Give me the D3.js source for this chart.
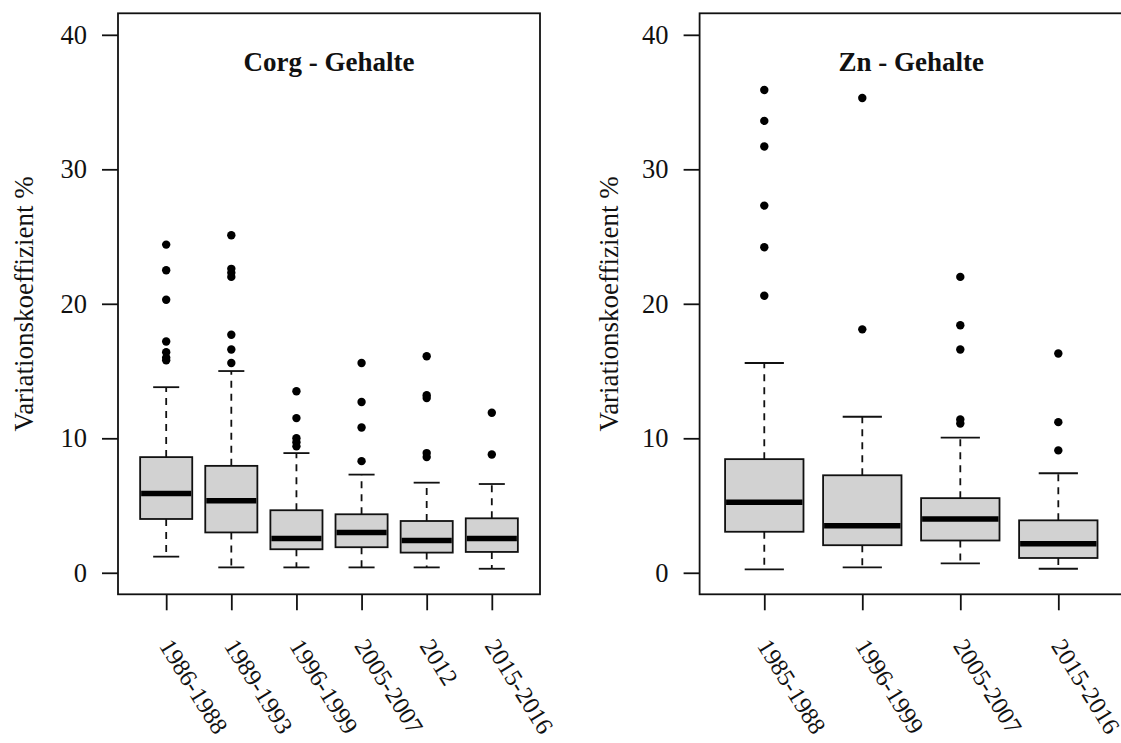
<!DOCTYPE html>
<html>
<head>
<meta charset="utf-8">
<script src="https://cdn.jsdelivr.net/npm/d3@7"></script>
<style>
  html, body { margin: 0; padding: 0; background: #ffffff; }
  svg { display: block; font-family: "Liberation Serif", "Times New Roman", serif; }
</style>
</head>
<body>
<script>
// Corg content: boxplot statistics per sampling period
const corgCategories = ["1986-1988", "1989-1993", "1996-1999", "2005-2007", "2012", "2015-2016"];
const corgLowerWhisker = [1.2, 0.4, 0.4, 0.4, 0.4, 0.3];
const corgQ1          = [4.0, 3.0, 1.75, 1.9, 1.5, 1.55];
const corgMedian      = [5.9, 5.35, 2.55, 3.0, 2.4, 2.55];
const corgQ3          = [8.6, 7.95, 4.65, 4.35, 3.85, 4.05];
const corgUpperWhisker= [13.8, 15.0, 8.9, 7.3, 6.7, 6.6];
const corgOutliers = [
  [24.4, 22.5, 20.3, 17.2, 16.4, 16.0, 15.8],
  [25.1, 22.6, 22.3, 22.0, 17.7, 16.6, 15.6],
  [13.5, 11.5, 10.0, 9.7, 9.4],
  [15.6, 12.7, 10.8, 8.3],
  [16.1, 13.2, 13.0, 8.9, 8.6],
  [11.9, 8.8]
];

// Zn content: boxplot statistics per sampling period
const znCategories = ["1985-1988", "1996-1999", "2005-2007", "2015-2016"];
const znLowerWhisker = [0.25, 0.4, 0.7, 0.3];
const znQ1           = [3.05, 2.05, 2.4, 1.1];
const znMedian       = [5.25, 3.5, 4.0, 2.15];
const znQ3           = [8.45, 7.25, 5.55, 3.9];
const znUpperWhisker = [15.6, 11.6, 10.05, 7.4];
const znOutliers = [
  [35.9, 33.6, 31.7, 27.3, 24.2, 20.6],
  [35.3, 18.1],
  [22.0, 18.4, 16.6, 11.4, 11.1],
  [16.3, 11.2, 9.1]
];

const yTicks = [0, 10, 20, 30, 40];
const yLabel = "Variationskoeffizient %";

const W = 1121, H = 743;
const svg = d3.select("body").append("svg").attr("width", W).attr("height", H);

const frameTop = 13.3, frameBottom = 594.3;
const FONT = 26.5;
const XFONT = 24.5;

function drawPanel(p) {
  const n = p.categories.length;
  const ext = 0.04 * n;
  const x = d3.scaleLinear().domain([0.5 - ext, n + 0.5 + ext]).range([p.left, p.right]);
  const yExt = 0.04 * 40;
  const y = d3.scaleLinear().domain([0 - yExt, 40 + yExt]).range([frameBottom, frameTop]);
  const unit = x(2) - x(1);
  const boxW = 0.8 * unit;
  const stapleW = 0.5 * boxW;

  const g = svg.append("g");

  // y axis
  const yAxis = g.append("g")
    .attr("transform", `translate(${p.left},0)`)
    .call(d3.axisLeft(y).tickValues(yTicks).tickSize(16).tickPadding(15).tickFormat(d3.format("d")));
  yAxis.select(".domain").remove();
  yAxis.selectAll(".tick line").attr("stroke", "#111").attr("stroke-width", 1.8);
  yAxis.selectAll(".tick text").attr("font-size", FONT).attr("fill", "#111")
    .attr("font-family", "'Liberation Serif', 'Times New Roman', serif");

  // x axis with slanted period labels
  const xIdx = d3.range(1, n + 1);
  const xAxis = g.append("g")
    .attr("transform", `translate(0,${frameBottom})`)
    .call(d3.axisBottom(x).tickValues(xIdx).tickSize(16).tickFormat(i => p.categories[i - 1]));
  xAxis.select(".domain").remove();
  xAxis.selectAll(".tick line").attr("stroke", "#111").attr("stroke-width", 1.8);
  xAxis.selectAll(".tick text")
    .attr("font-size", XFONT).attr("fill", "#111")
    .attr("font-family", "'Liberation Serif', 'Times New Roman', serif")
    .attr("text-anchor", "start")
    .attr("dominant-baseline", "central")
    .attr("dy", null)
    .attr("y", null)
    .attr("transform", "translate(-1,47) rotate(58)");

  // y axis title
  g.append("text")
    .attr("transform", `translate(${p.labelX},${(frameTop + frameBottom) / 2}) rotate(-90)`)
    .attr("text-anchor", "middle")
    .attr("font-size", 27)
    .attr("fill", "#111")
    .text(yLabel);

  // boxes
  const data = p.categories.map((c, i) => ({
    i: i + 1, lo: p.lo[i], q1: p.q1[i], med: p.med[i], q3: p.q3[i], hi: p.hi[i], out: p.out[i]
  }));
  const bx = g.selectAll("g.box").data(data).join("g").attr("class", "box");

  // whiskers (dashed)
  bx.append("line")
    .attr("x1", d => x(d.i)).attr("x2", d => x(d.i))
    .attr("y1", d => y(d.q3)).attr("y2", d => y(d.hi))
    .attr("stroke", "#111").attr("stroke-width", 1.8).attr("stroke-dasharray", "7,6");
  bx.append("line")
    .attr("x1", d => x(d.i)).attr("x2", d => x(d.i))
    .attr("y1", d => y(d.q1)).attr("y2", d => y(d.lo))
    .attr("stroke", "#111").attr("stroke-width", 1.8).attr("stroke-dasharray", "7,6");
  // staples
  bx.append("line")
    .attr("x1", d => x(d.i) - stapleW / 2).attr("x2", d => x(d.i) + stapleW / 2)
    .attr("y1", d => y(d.hi)).attr("y2", d => y(d.hi))
    .attr("stroke", "#111").attr("stroke-width", 1.8);
  bx.append("line")
    .attr("x1", d => x(d.i) - stapleW / 2).attr("x2", d => x(d.i) + stapleW / 2)
    .attr("y1", d => y(d.lo)).attr("y2", d => y(d.lo))
    .attr("stroke", "#111").attr("stroke-width", 1.8);
  // box
  bx.append("rect")
    .attr("x", d => x(d.i) - boxW / 2).attr("width", boxW)
    .attr("y", d => y(d.q3)).attr("height", d => y(d.q1) - y(d.q3))
    .attr("fill", "#d2d2d2").attr("stroke", "#111").attr("stroke-width", 1.8);
  // median
  bx.append("line")
    .attr("x1", d => x(d.i) - boxW / 2 + 1).attr("x2", d => x(d.i) + boxW / 2 - 1)
    .attr("y1", d => y(d.med)).attr("y2", d => y(d.med))
    .attr("stroke", "#000").attr("stroke-width", 5.5);
  // outliers
  bx.selectAll("circle").data(d => d.out.map(v => ({ i: d.i, v }))).join("circle")
    .attr("cx", d => x(d.i)).attr("cy", d => y(d.v)).attr("r", 4.2).attr("fill", "#000");

  // frame
  g.append("rect")
    .attr("x", p.left).attr("y", frameTop)
    .attr("width", p.right - p.left).attr("height", frameBottom - frameTop)
    .attr("fill", "none").attr("stroke", "#111").attr("stroke-width", 1.8);

  // panel title
  g.append("text")
    .attr("x", (p.left + p.right) / 2).attr("y", 70.5)
    .attr("text-anchor", "middle")
    .attr("font-size", 27).attr("font-weight", "bold").attr("fill", "#111")
    .text(p.title);
}

drawPanel({
  title: "Corg - Gehalte", left: 118, right: 540, labelX: 33,
  categories: corgCategories, lo: corgLowerWhisker, q1: corgQ1, med: corgMedian,
  q3: corgQ3, hi: corgUpperWhisker, out: corgOutliers
});
drawPanel({
  title: "Zn - Gehalte", left: 699.6, right: 1123, labelX: 618,
  categories: znCategories, lo: znLowerWhisker, q1: znQ1, med: znMedian,
  q3: znQ3, hi: znUpperWhisker, out: znOutliers
});
</script>
</body>
</html>
